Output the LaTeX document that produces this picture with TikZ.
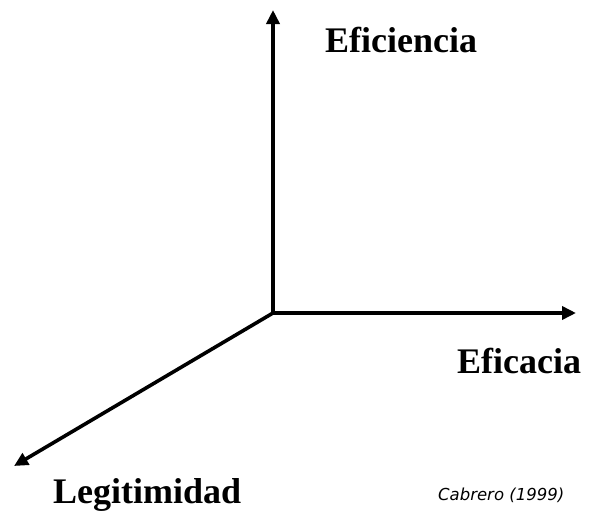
\documentclass[tikz,border=0pt]{standalone}
\usepackage{fontspec}
\setmainfont{Liberation Serif}
\newfontfamily\citefont{DejaVu Sans}
\usetikzlibrary{arrows.meta}
\newcommand\axlabel[1]{\fontsize{36}{40}\selectfont\bfseries #1}
\definecolor{axis_black}{RGB}{0,0,0}

\begin{document}
\begin{tikzpicture}[x=1pt,y=1pt]
    \tikzstyle{axis}=[draw=axis_black, line width=3.6pt, -{Triangle[length=14pt,width=13pt]}]
    \tikzstyle{lbl}=[anchor=base west, inner sep=0pt, text=black]
    \useasboundingbox (0,0) rectangle (589,-514);

    \coordinate (o)   at (273,-313);
    \coordinate (up)  at (273,-10);
    \coordinate (rt)  at (576,-313);
    \coordinate (dl)  at (14,-466);

    \node[lbl] (efic) at (325,-52)  {\axlabel{Eficiencia}};
    \node[lbl] (efca) at (457,-373) {\axlabel{Eficacia}};
    \node[lbl] (legi) at (53,-503)  {\axlabel{Legitimidad}};
    \node[lbl] (cita) at (438,-500) {\citefont\fontsize{16.5}{19}\selectfont\itshape Cabrero (1999)};
    \path
     (o) edge[axis] (up)
     (o) edge[axis] (rt)
     (o) edge[axis] (dl)
     ;
\end{tikzpicture}
\end{document}
